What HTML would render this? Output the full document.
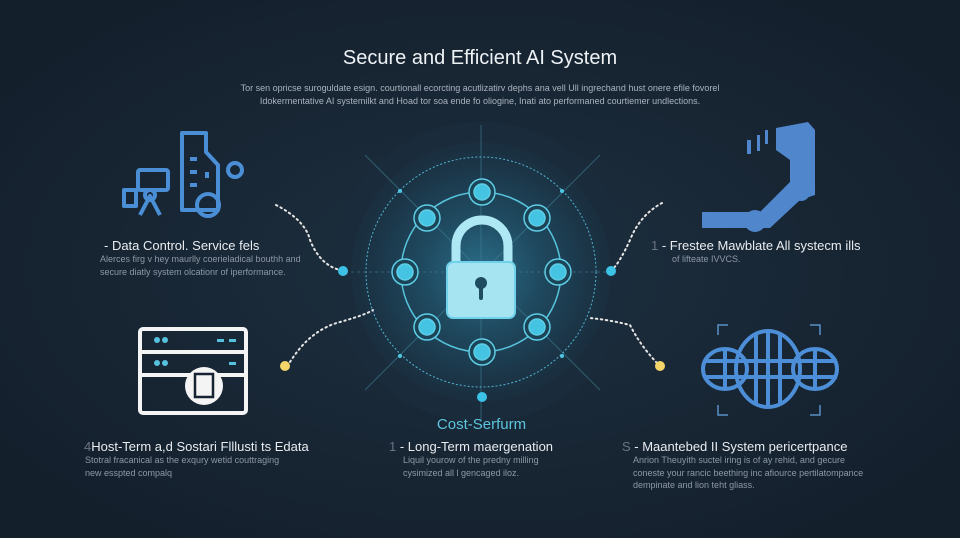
<!DOCTYPE html>
<html><head><meta charset="utf-8"><style>
html,body{margin:0;padding:0;width:960px;height:538px;overflow:hidden;background:#162231;font-family:"Liberation Sans",sans-serif}
.t{position:absolute;white-space:nowrap}
.h{color:#e8ecf0;font-size:13px}
.d{color:#8e98a6;font-size:9px;line-height:12.5px}
</style></head><body>
<svg width="960" height="538" style="position:absolute;left:0;top:0">
<defs>
<radialGradient id="bg" cx="50%" cy="50%" r="60%"><stop offset="0" stop-color="#1d3040"/><stop offset="1" stop-color="#141f2c"/></radialGradient>
<radialGradient id="glow" cx="50%" cy="50%" r="50%"><stop offset="0" stop-color="#2a6d88"/><stop offset="0.45" stop-color="#1f4a60"/><stop offset="0.85" stop-color="#1b3446"/><stop offset="1" stop-color="#1a2e3e"/></radialGradient>
</defs>
<rect width="960" height="538" fill="url(#bg)"/>
<circle cx="481" cy="272" r="150" fill="#1a2c3b"/>
<circle cx="481" cy="272" r="130" fill="url(#glow)"/>
<g stroke="#3f7f96" stroke-width="1" opacity="0.6">
<line x1="481" y1="125" x2="481" y2="420"/>
<line x1="365" y1="155" x2="600" y2="390"/>
<line x1="600" y1="155" x2="365" y2="390"/>
<line x1="345" y1="272" x2="615" y2="272" stroke-dasharray="3 3"/>
</g>
<circle cx="481" cy="272" r="115" fill="none" stroke="#4fb6d0" stroke-width="1" stroke-dasharray="2 2"/>
<circle cx="481" cy="272" r="80" fill="none" stroke="#56c3dc" stroke-width="1.5"/>
<g fill="#44c4e2" stroke="#5fcde6" stroke-width="1.5">
<g><circle cx="482" cy="192" r="13" fill="#1c4457"/><circle cx="482" cy="192" r="8"/></g>
<g><circle cx="537" cy="218" r="13" fill="#1c4457"/><circle cx="537" cy="218" r="8"/></g>
<g><circle cx="558" cy="272" r="13" fill="#1c4457"/><circle cx="558" cy="272" r="8"/></g>
<g><circle cx="537" cy="327" r="13" fill="#1c4457"/><circle cx="537" cy="327" r="8"/></g>
<g><circle cx="482" cy="352" r="13" fill="#1c4457"/><circle cx="482" cy="352" r="8"/></g>
<g><circle cx="427" cy="327" r="13" fill="#1c4457"/><circle cx="427" cy="327" r="8"/></g>
<g><circle cx="405" cy="272" r="13" fill="#1c4457"/><circle cx="405" cy="272" r="8"/></g>
<g><circle cx="427" cy="218" r="13" fill="#1c4457"/><circle cx="427" cy="218" r="8"/></g>
</g>
<g fill="#4fc6e2"><circle cx="400" cy="191" r="2"/><circle cx="562" cy="191" r="2"/><circle cx="400" cy="356" r="2"/><circle cx="562" cy="356" r="2"/></g>
<!-- lock -->
<path d="M456 264 V246 a26 26 0 0 1 52 0 V264" fill="none" stroke="#aee8f4" stroke-width="9"/>
<rect x="447" y="262" width="68" height="56" rx="6" fill="#a6e4f2" stroke="#6fd2ea" stroke-width="2"/>
<circle cx="481" cy="283" r="6" fill="#1e4c60"/><rect x="479" y="284" width="4" height="16" rx="2" fill="#1e4c60"/>
<!-- connectors -->
<g fill="none" stroke="#e6e6e6" stroke-width="2" stroke-dasharray="1.5 3.5" stroke-linecap="round">
<path d="M276 205 Q305 220 310 240 Q320 265 340 270"/>
<path d="M290 362 Q310 330 340 322 Q365 315 373 310"/>
<path d="M662 203 Q640 215 630 240 Q620 262 612 270"/>
<path d="M657 363 Q640 345 630 325 Q610 320 590 318"/>
</g>
<circle cx="343" cy="271" r="5" fill="#3cc2e6"/>
<circle cx="611" cy="271" r="5" fill="#3cc2e6"/>
<circle cx="482" cy="397" r="5" fill="#3cc2e6"/>
<circle cx="285" cy="366" r="5" fill="#f4d56a"/>
<circle cx="660" cy="366" r="5" fill="#f4d56a"/>
<!-- top-left icon -->
<g fill="none" stroke="#4a8fd6" stroke-width="4" stroke-linejoin="round">
<path d="M182 133 H206 V152 L218 165 V210 H182 Z"/>
<circle cx="235" cy="170" r="7"/><circle cx="208" cy="205" r="11"/>
<rect x="138" y="170" width="30" height="20" rx="2"/>
<rect x="124" y="190" width="12" height="16"/>
<path d="M140 215 L150 196 L160 215"/><circle cx="150" cy="195" r="5"/>
</g>
<g fill="#4a8fd6"><rect x="190" y="157" width="7" height="4"/><rect x="190" y="170" width="7" height="4"/><rect x="190" y="183" width="7" height="4"/><rect x="205" y="172" width="4" height="6"/></g>
<!-- server icon -->
<g fill="none" stroke="#f4f4f4" stroke-width="4"><rect x="140" y="329" width="106" height="84" rx="3"/><line x1="140" y1="352" x2="246" y2="352"/><line x1="140" y1="375" x2="246" y2="375"/></g>
<circle cx="204" cy="386" r="19" fill="#f4f4f4"/>
<rect x="195" y="374" width="18" height="23" fill="none" stroke="#162231" stroke-width="2.5"/>
<g fill="#55c1df"><circle cx="157" cy="340" r="3"/><circle cx="165" cy="340" r="3"/><circle cx="157" cy="363" r="3"/><circle cx="165" cy="363" r="3"/><rect x="217" y="339" width="7" height="3"/><rect x="229" y="339" width="7" height="3"/><rect x="229" y="362" width="7" height="3"/></g>
<!-- robot arm -->
<g fill="#4f86cc">
<path d="M776 128 L808 122 L815 130 V195 L800 200 L770 228 H702 V212 H760 L790 182 V160 L776 150 Z"/>
<circle cx="755" cy="221" r="11"/><circle cx="801" cy="192" r="9"/>
<rect x="747" y="140" width="4" height="14"/><rect x="757" y="135" width="3" height="16"/><rect x="765" y="130" width="3" height="14"/>
</g>
<!-- globe -->
<g fill="none" stroke="#4c8fd8" stroke-width="4">
<ellipse cx="768" cy="369" rx="32" ry="38"/>
<ellipse cx="725" cy="369" rx="22" ry="20"/><ellipse cx="815" cy="369" rx="22" ry="20"/>
<line x1="705" y1="361" x2="837" y2="361"/><line x1="705" y1="377" x2="837" y2="377"/>
<line x1="756" y1="333" x2="756" y2="405"/><line x1="780" y1="333" x2="780" y2="405"/><line x1="768" y1="331" x2="768" y2="407"/>
<line x1="725" y1="350" x2="725" y2="388"/><line x1="815" y1="350" x2="815" y2="388"/>
</g>
<g fill="none" stroke="#5a8fc8" stroke-width="1.5"><path d="M718 335 V325 H728"/><path d="M810 325 H820 V335"/><path d="M718 405 V415 H728"/><path d="M810 415 H820 V405"/></g>
</svg>
<div class="t" style="left:0;width:960px;top:47px;text-align:center;color:#eef2f5;font-size:20px">Secure and Efficient AI System</div>
<div class="t d" style="left:0;width:960px;top:82px;text-align:center;color:#aab3bf">Tor sen opricse suroguldate esign. courtionall ecorcting acutlizatirv dephs ana vell Ull ingrechand hust onere efile fovorel<br>Idokermentative AI systemilkt and Hoad tor soa ende fo oliogine, Inati ato performaned courtiemer undlections.</div>
<div class="t h" style="left:104px;top:238px">- Data Control. Service fels</div>
<div class="t d" style="left:100px;top:253px">Alerces firg v hey maurlly coerieladical bouthh and<br>secure diatly system olcationr of iperformance.</div>
<div class="t h" style="left:651px;top:238px"><span style="color:#6a7483">1</span> - Frestee Mawblate All systecm ills</div>
<div class="t d" style="left:672px;top:253px">of lifteate IVVCS.</div>
<div class="t" style="left:0;width:963px;top:416px;text-align:center;color:#5cc6df;font-size:15px">Cost-Serfurm</div>
<div class="t h" style="left:84px;top:439px"><span style="color:#6a7483">4</span>Host-Term a,d Sostari Flllusti ts Edata</div>
<div class="t d" style="left:85px;top:454px">Stotral fracanical as the exqury wetid couttraging<br>new esspted compalq</div>
<div class="t h" style="left:389px;top:439px"><span style="color:#6a7483">1</span> - Long-Term maergenation</div>
<div class="t d" style="left:403px;top:454px">Liquil yourow of the predny milling<br>cysimized all l gencaged iloz.</div>
<div class="t h" style="left:622px;top:439px"><span style="color:#6a7483">S</span> - Maantebed II System pericertpance</div>
<div class="t d" style="left:633px;top:454px">Anrion Theuyith suctel iring is of ay rehid, and gecure<br>coneste your rancic beething inc afiource pertilatompance<br>dempinate and lion teht gliass.</div>
</body></html>
